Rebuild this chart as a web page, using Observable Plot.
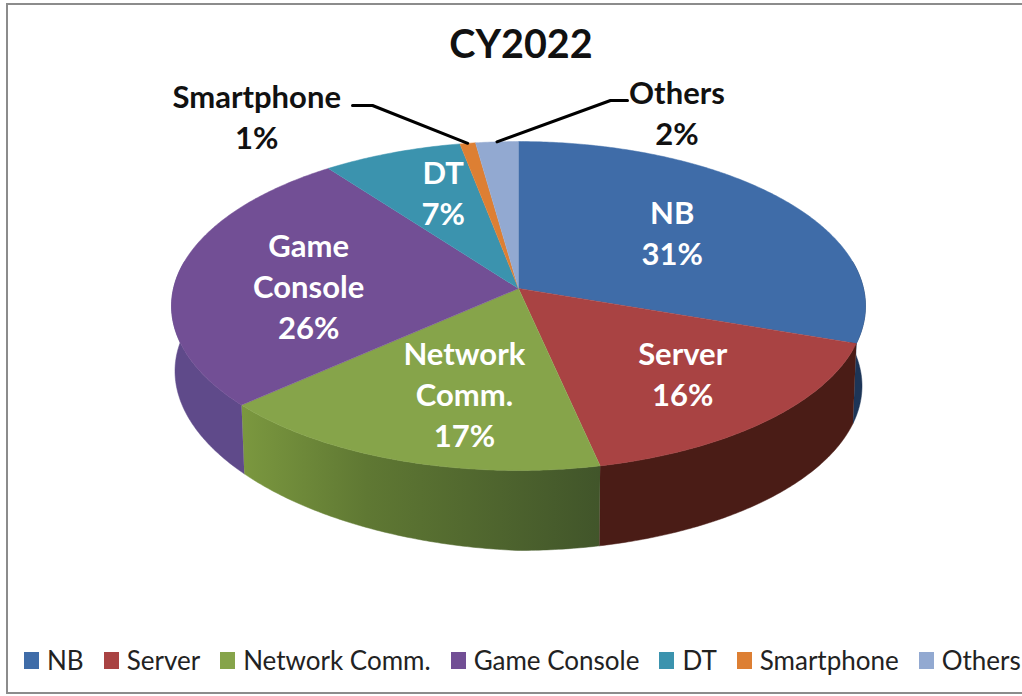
<!DOCTYPE html>
<html>
<head>
<meta charset="utf-8">
<script src="https://cdn.jsdelivr.net/npm/d3@7"></script>
<script src="https://cdn.jsdelivr.net/npm/@observablehq/plot@0.6"></script>
<style>
  html, body { margin: 0; padding: 0; background: #fff; }
  body { width: 1022px; height: 696px; overflow: hidden; position: relative; font-family: Lato, sans-serif; }
  #frame { position: absolute; left: 6px; top: 3px; right: -4px; bottom: 2px; border: 2.5px solid #8c8c8c; box-sizing: border-box; pointer-events: none; }
  #title { position: absolute; left: 0; top: 0; width: 1042px; height: 72px; line-height: 86px; text-align: center; font-size: 39.5px; font-weight: 700; color: #111; }
  #chart { position: absolute; left: 0; top: 72px; }
  #legend { position: absolute; left: 24px; top: 640px; height: 40px; white-space: nowrap; display: flex; align-items: center; font-size: 26px; color: #222; }
  #legend .item { display: flex; align-items: center; margin-right: 20px; }
  #legend .item:last-child { margin-right: 0; }
  #legend .sw { width: 15px; height: 17px; margin-right: 8px; display: inline-block; }
</style>
</head>
<body>
<div id="frame"></div>
<div id="title">CY2022</div>
<div id="chart"></div>
<div id="legend"></div>
<script>
// Data
const names = ["NB", "Server", "Network Comm.", "Game Console", "DT", "Smartphone", "Others"];
const shares = [30.3, 16.3, 16.8, 26.4, 7.2, 0.8, 2.2];
const percentLabels = ["31%", "16%", "17%", "26%", "7%", "1%", "2%"];
const sliceLabels = ["NB", "Server", "Network\nComm.", "Game\nConsole", "DT", "Smartphone", "Others"];
const colors = ["#3f6ca8", "#a94343", "#86a44a", "#724f95", "#3b93ae", "#dd7f33", "#92a9d1"];
const wallColors = ["#1d3557", "#4a1c16", "url(#wallGreen)", "#5f4a8a", null, null, null];

// Perspective layout of the pie
const cx = 518, cy = 288, A = 345, B = 162.6, k = 0.1064;
const H = 540, yTop = 72;
const total = d3.sum(shares);
const cumulative = d3.cumsum(shares);
const start = i => (i === 0 ? 0 : cumulative[i - 1]) / total * 2 * Math.PI;
const end = i => cumulative[i] / total * 2 * Math.PI;

function project(theta, r = 1) {
  const u = r * Math.sin(theta), v = -r * Math.cos(theta), w = 1 - k * v;
  return {x: cx + A * u / w, y: cy + B * v / w, u, v};
}
function arc(a, b) {
  const n = Math.max(2, Math.ceil((b - a) / 0.01));
  return d3.range(n + 1).map(j => a + (b - a) * j / n);
}

// Top faces
const faces = names.flatMap((name, i) => [
  {name, ...project(0, 0)},
  ...arc(start(i), end(i)).map(t => ({name, ...project(t)}))
]);

// Side walls of the front half
function wall(i) {
  const a = Math.max(start(i), 1.4), b = Math.min(end(i), 2 * Math.PI - 1.4);
  if (a >= b) return [];
  const ts = arc(a, b);
  const upper = ts.map(t => project(t));
  const lower = ts.map(t => {
    const p = project(t);
    const depth = p.u >= 0 ? 80 : 80 + 15 * p.u;
    return {x: cx + (p.x - cx) * 0.99, y: p.y + depth};
  }).reverse();
  return [...upper, ...lower];
}

// Labels: radius and mid-angle from the slices
const inside = [
  {i: 0, r: 0.59, shift: -0.05},
  {i: 1, r: 0.665, shift: -0.02},
  {i: 2, r: 0.62, shift: -0.075},
  {i: 3, r: 0.61, shift: -0.066},
  {i: 4, r: 0.68, shift: 0.065}
].map(({i, r, shift}) => {
  const p = project((start(i) + end(i)) / 2 + shift, r);
  return {x: p.x, y: p.y, text: sliceLabels[i] + "\n" + percentLabels[i]};
});
const outside = [
  {i: 5, dx: -211, dy: -28, elbow: [[372, 105], [352, 105]]},
  {i: 6, dx: 180, dy: -30, elbow: [[610, 100], [627, 100]]}
].map(({i, dx, dy, elbow}) => {
  const rim = project((start(i) + end(i)) / 2);
  return {
    i,
    label: {x: rim.x + dx, y: rim.y + dy, text: sliceLabels[i] + "\n" + percentLabels[i]},
    leader: [{x: rim.x, y: rim.y}, ...elbow.map(([x, y]) => ({x, y}))].map(d => ({...d, name: names[i]}))
  };
});

// Gradient for the green wall
function defs() {
  const ns = "http://www.w3.org/2000/svg";
  const d = document.createElementNS(ns, "defs");
  const g = document.createElementNS(ns, "linearGradient");
  g.setAttribute("id", "wallGreen");
  [["0%", "#7b983f"], ["35%", "#5f7833"], ["100%", "#41552a"]].forEach(([o, c]) => {
    const s = document.createElementNS(ns, "stop");
    s.setAttribute("offset", o);
    s.setAttribute("stop-color", c);
    g.appendChild(s);
  });
  d.appendChild(g);
  return d;
}

const textStyle = {fontFamily: "Lato, sans-serif", fontWeight: 700, fontSize: 31, lineHeight: 1.32};

const chart = Plot.plot({
  width: 1022,
  height: H,
  margin: 0,
  x: {domain: [0, 1022], range: [0, 1022], axis: null},
  y: {domain: [yTop, yTop + H], range: [0, H], axis: null},
  color: {domain: names, range: colors},
  style: {background: "transparent", overflow: "visible"},
  marks: [
    defs,
    ...names.map((_, i) => wallColors[i] ? Plot.line(wall(i), {x: "x", y: "y", fill: wallColors[i], stroke: wallColors[i], strokeWidth: 0.5}) : null),
    Plot.line(faces, {x: "x", y: "y", z: "name", fill: "name", stroke: "name", strokeWidth: 0.5}),
    Plot.text(inside, {x: "x", y: "y", text: "text", fill: "#fff", ...textStyle}),
    ...outside.map(o => Plot.line(o.leader, {x: "x", y: "y", stroke: "#000", strokeWidth: 3, curve: "linear"})),
    Plot.text(outside.map(o => o.label), {x: "x", y: "y", text: "text", fill: "#111", ...textStyle})
  ]
});
document.getElementById("chart").appendChild(chart);

// Legend
const legend = d3.select("#legend");
names.forEach((n, i) => {
  const item = legend.append("div").attr("class", "item");
  item.append("span").attr("class", "sw").style("background", colors[i]);
  item.append("span").text(n);
});
</script>
</body>
</html>
